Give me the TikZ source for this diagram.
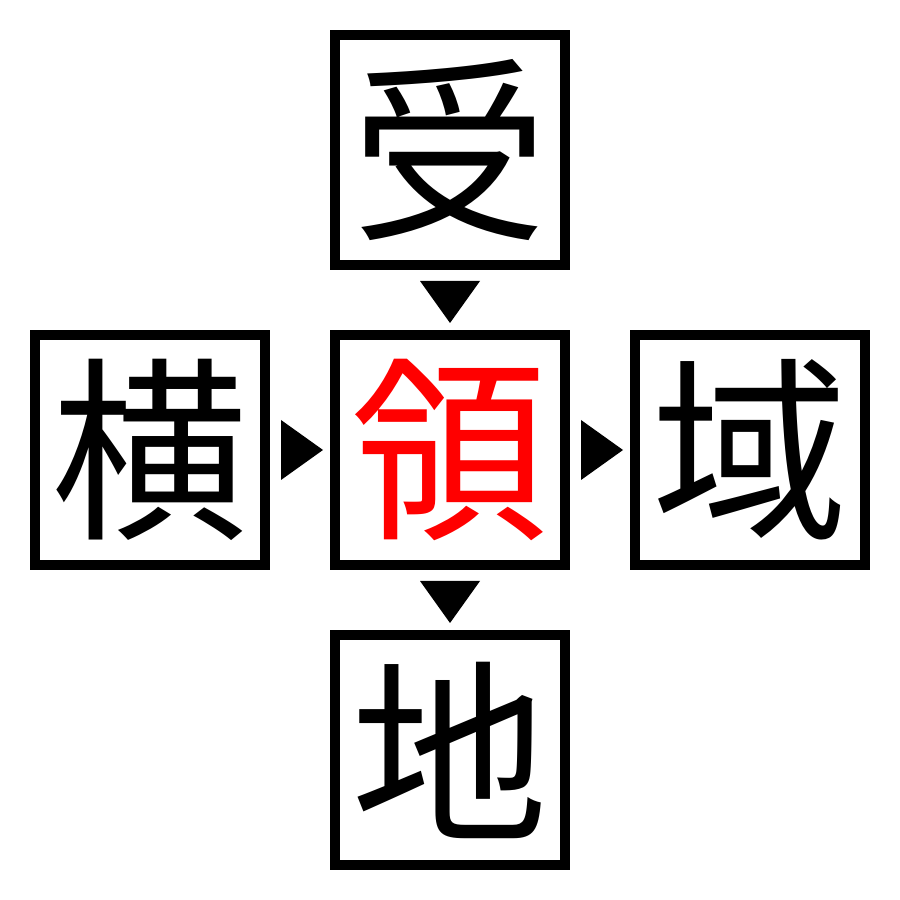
\documentclass[tikz,border=0pt]{standalone}
\usepackage{fontspec}
\newfontfamily\cjk{Noto Sans CJK JP}
\usetikzlibrary{calc}
\tikzstyle{box} = [rectangle, minimum size=2.3cm, line width=0.1cm, draw=black, inner sep=0pt, font=\cjk\fontsize{56}{56}\selectfont]
\tikzstyle{tip} = [fill=black]

\begin{document}
\begin{tikzpicture}[node distance=3cm]
	\useasboundingbox (0,0) rectangle (9,9);
	\node (c) [box, text=red] at (4.5,4.5) {領};
	\node (t) [box, above of=c] {受};
	\node (l) [box, left of=c] {横};
	\node (r) [box, right of=c] {域};
	\node (b) [box, below of=c] {地};

	\fill [tip] ($(t.south)+(-0.3,-0.11)$) -- ++(0.6,0) -- ++(-0.3,-0.42) -- cycle;
	\fill [tip] ($(c.south)+(-0.3,-0.11)$) -- ++(0.6,0) -- ++(-0.3,-0.42) -- cycle;
	\fill [tip] ($(l.east)+(0.11,0.3)$) -- ++(0,-0.6) -- ++(0.42,0.3) -- cycle;
	\fill [tip] ($(c.east)+(0.11,0.3)$) -- ++(0,-0.6) -- ++(0.42,0.3) -- cycle;
\end{tikzpicture}
\end{document}
